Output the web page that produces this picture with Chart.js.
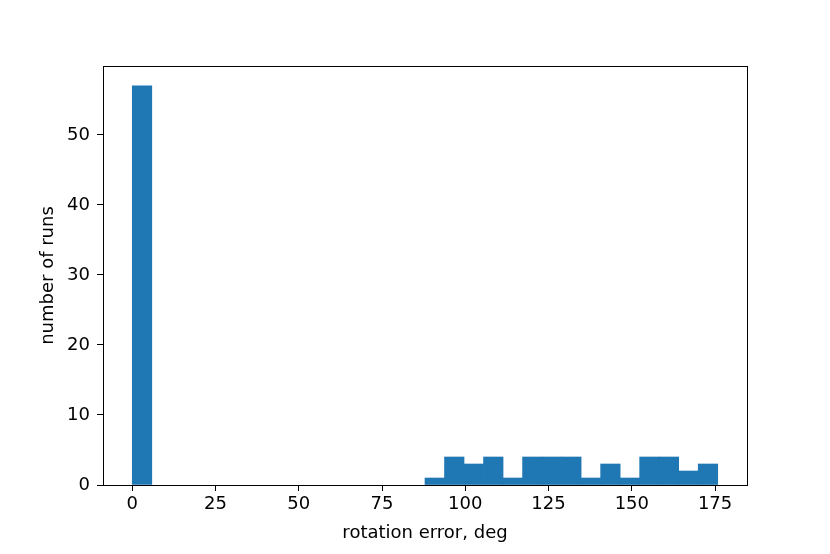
<!DOCTYPE html>
<html>
<head>
<meta charset="utf-8">
<script src="https://cdn.jsdelivr.net/npm/chart.js@4"></script>
<style>
  html, body { margin: 0; padding: 0; background: #fff; }
  #wrap { width: 830px; height: 554px; }
</style>
</head>
<body>
<div id="wrap"><canvas id="myChart" width="830" height="554"></canvas></div>
<script>
// histogram: 30 bins between the smallest and largest error
var errMin = 0;
var errMax = 175.8;
var binCounts = [57, 0, 0, 0, 0, 0, 0, 0, 0, 0, 0, 0, 0, 0, 0,
                 1, 4, 3, 4, 1, 4, 4, 4, 1, 3, 1, 4, 4, 2, 3];
var xTicks = [0, 25, 50, 75, 100, 125, 150, 175];
var yTicks = [0, 10, 20, 30, 40, 50];

var binWidth = (errMax - errMin) / binCounts.length;
var points = [];
binCounts.forEach(function (c, i) {
  // empty bins draw nothing in matplotlib
  if (c > 0) points.push({ x: errMin + binWidth * (i + 0.5), y: c });
});

// matplotlib style 5% margins
var xPad = (errMax - errMin) * 0.05;
var yMax = Math.max.apply(null, binCounts);

var frame = {
  id: 'frame',
  afterDraw: function (chart) {
    var a = chart.chartArea;
    var ctx = chart.ctx;
    ctx.save();
    ctx.strokeStyle = '#000';
    ctx.lineWidth = 1;
    ctx.strokeRect(Math.round(a.left) + 0.5, Math.round(a.top) + 0.5,
      Math.round(a.right - a.left), Math.round(a.bottom - a.top));
    ctx.restore();
  }
};

var font = { family: 'DejaVu Sans', size: 18 };

var ctx = document.getElementById('myChart').getContext('2d');
var chart = new Chart(ctx, {
  type: 'bar',
  data: {
    datasets: [{
      data: points,
      backgroundColor: '#1f77b4',
      borderWidth: 0,
      barPercentage: 1,
      categoryPercentage: 1
    }]
  },
  options: {
    responsive: false,
    animation: false,
    layout: { padding: { top: 66, right: 83, left: 0, bottom: 0 } },
    plugins: { legend: { display: false }, tooltip: { enabled: false } },
    scales: {
      x: {
        type: 'linear',
        offset: false,
        min: errMin - xPad,
        max: errMax + xPad,
        afterBuildTicks: function (s) { s.ticks = xTicks.map(function (v) { return { value: v }; }); },
        afterFit: function (s) { s.height = 69; },
        grid: { offset: false, drawOnChartArea: false, tickLength: 6, tickColor: '#000', tickWidth: 1 },
        border: { color: '#000', width: 1 },
        ticks: { color: '#000', font: font, padding: 3, maxRotation: 0 },
        title: { display: true, text: 'rotation error, deg', color: '#000', font: font, padding: { top: 0, bottom: 10 } }
      },
      y: {
        min: 0,
        max: yMax * 1.05,
        afterBuildTicks: function (s) { s.ticks = yTicks.map(function (v) { return { value: v }; }); },
        afterFit: function (s) { s.width = 103; },
        grid: { drawOnChartArea: false, tickLength: 6, tickColor: '#000', tickWidth: 1 },
        border: { color: '#000', width: 1 },
        ticks: { color: '#000', font: font, padding: 7 },
        title: { display: true, text: 'number of runs', color: '#000', font: font, padding: { top: 38, bottom: 0 } }
      }
    }
  },
  plugins: [frame]
});
</script>
</body>
</html>
